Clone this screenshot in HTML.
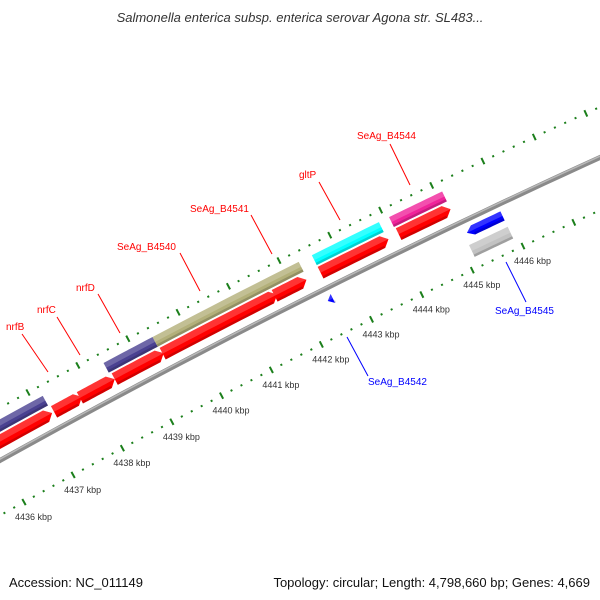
<!DOCTYPE html>
<html><head><meta charset="utf-8"><style>
html,body{margin:0;padding:0;background:#fff;overflow:hidden;}
svg{display:block;font-family:"Liberation Sans","DejaVu Sans",sans-serif;}
</style></head><body>
<svg id="map" width="600" height="600" viewBox="0 0 600 600" xmlns="http://www.w3.org/2000/svg">
<rect width="600" height="600" fill="#fff"/>
<text x="300" y="22" text-anchor="middle" font-size="13" font-style="italic" fill="#333">Salmonella enterica subsp. enterica serovar Agona str. SL483...</text>
<g id="plot"></g>
<text x="9" y="587" font-size="13" fill="#111">Accession: NC_011149</text>
<text x="590" y="587" font-size="13" text-anchor="end" fill="#111">Topology: circular; Length: 4,798,660 bp; Genes: 4,669</text>
</svg>
<script>
// data (kbp)
const tickStartKbp = 4430;
const tickEndKbp = 4452;
const labelKbp = [4436,4437,4438,4439,4440,4441,4442,4443,4444,4445,4446];
const featNames = ['purple-a','nrfD-bar','SeAg_B4540-bar','gltP-bar','SeAg_B4544-bar','red-1','red-2','red-3','red-4','red-5','red-6','red-7','red-8','SeAg_B4545-arrow','grey-bar','SeAg_B4542-arrow'];
const featStart = [4434.5,4438.42,4439.4,4442.56,4444.08,4434.5,4437.24,4437.76,4438.46,4439.42,4441.65,4442.56,4444.1,4445.2,4445.14,4442.45];
const featEnd   = [4437.2,4439.4,4442.3,4443.88,4445.12,4437.2,4437.8,4438.46,4439.44,4441.7,4442.28,4443.9,4445.12,4445.9,4445.9,4442.55];
const featStrand = [0,0,0,0,0,1,1,1,1,1,1,1,1,-1,0,-1];
const featBand = ['outer','outer','outer','outer','outer','red','red','red','red','red','red','red','red','inner','grey','inner'];
const featColor = ['#4a4191','#4a4191','#b3b07a','#00ffff','#f0239a','#ff0000','#ff0000','#ff0000','#ff0000','#ff0000','#ff0000','#ff0000','#ff0000','#0000ff','#c2c2c2','#0000ff'];

const CX=4101, CY=7836, R=8439, D0=-119.07, DPK=0.383;
const bands={outer:[25,36],red:[10,23],inner:[-17,-7],grey:[-37,-24]};
function pt(k,r){const t=(D0+DPK*(k-4436))*Math.PI/180;return [CX+r*Math.cos(t),CY+r*Math.sin(t)];}
const NS='http://www.w3.org/2000/svg';
const plot=document.getElementById('plot');
function mk(tag,attrs,parent){const e=document.createElementNS(NS,tag);for(const q in attrs)e.setAttribute(q,attrs[q]);(parent||plot).appendChild(e);return e;}
function arcPts(k1,k2,r,n){const p=[];for(let i=0;i<=n;i++){const k=k1+(k2-k1)*i/n;p.push(pt(k,r));}return p;}
function ps(arr){return arr.map(p=>p[0].toFixed(2)+','+p[1].toFixed(2)).join(' ');}

// backbone
const bb=mk('polyline',{points:ps(arcPts(4428,4452,R,60)),fill:'none',stroke:'#8a8a8a','stroke-width':5});


const bhl=mk('polyline',{points:ps(arcPts(4428,4452,R+1.2,60)),fill:'none',stroke:'#b8b8b8','stroke-width':1.5});



// tick rings
function ring(r,name){
  const g=mk('g',{});
  
  
  const n=Math.round((tickEndKbp-tickStartKbp)*5);
  for(let i=0;i<=n;i++){
    const k=tickStartKbp+i*0.2;
    const major=(i%5===0);
    const h=major?3.5:1;
    const p1=pt(k,r-h),p2=pt(k,r+h);
    const l=mk('line',{x1:p1[0],y1:p1[1],x2:p2[0],y2:p2[1],stroke:'#1b7f1b','stroke-width':2},g);
    
    
  }
}
ring(R+46,'outer-tick-ring');
ring(R-48,'inner-tick-ring');
labelKbp.forEach(k=>{
  const p=pt(k,R-48);
  const t=mk('text',{x:(p[0]-9).toFixed(1),y:(p[1]+18).toFixed(1),'font-size':9,fill:'#333'});
  t.textContent=k+' kbp';
  
  
});

// features
featNames.forEach((nm,i)=>{
  const r1=R+bands[featBand[i]][0], r2=R+bands[featBand[i]][1];
  const rm=(r1+r2)/2;
  const s=featStrand[i];
  const ka=featStart[i],kb=featEnd[i];
  const head=0.12;
  let pts,top;
  if(s===1){const h2=Math.max(ka,kb-head);
    pts=arcPts(ka,h2,r2,10).concat([pt(kb,rm)]).concat(arcPts(h2,ka,r1,10));
    top=arcPts(ka,h2,r2,10).concat([pt(kb,rm)]).concat(arcPts(h2,ka,rm,10));}
  else if(s===-1){const ah=Math.min(kb,ka+head);
    pts=[pt(ka,rm)].concat(arcPts(ah,kb,r2,10)).concat(arcPts(kb,ah,r1,10));
    top=[pt(ka,rm)].concat(arcPts(ah,kb,r2,10)).concat(arcPts(kb,ah,rm,10));}
  else {pts=arcPts(ka,kb,r2,10).concat(arcPts(kb,ka,r1,10));
    top=arcPts(ka,kb,r2,10).concat(arcPts(kb,ka,rm,10));}
  const g=mk('g',{});
  
  
  mk('polygon',{points:ps(pts),fill:featColor[i]},g);
  mk('polygon',{points:ps(top),fill:'#fff','fill-opacity':0.2},g);
  const s1=ka+(s===-1?head:0), s2=kb-(s===1?head:0);
  const bot=arcPts(s1,s2,r1+2.5,10).concat(arcPts(s2,s1,r1,10));
  mk('polygon',{points:ps(bot),fill:'#000','fill-opacity':0.18},g);
});

// labels with leader lines (layout)
const labs=[
 ['nrfB',6,330,22,334,48,372,'#f00'],
 ['nrfC',37,313,57,317,80,355,'#f00'],
 ['nrfD',76,291,98,294,120,333,'#f00'],
 ['SeAg_B4540',117,250,180,253,200,291,'#f00'],
 ['SeAg_B4541',190,212,251,215,272,254,'#f00'],
 ['gltP',299,178,319,182,340,220,'#f00'],
 ['SeAg_B4544',357,139,390,144,410,185,'#f00'],
 ['SeAg_B4542',368,385,347,337,368,376,'#00f'],
 ['SeAg_B4545',495,314,506,262,526,302,'#00f']
];
labs.forEach(l=>{
  const ln=mk('line',{x1:l[3],y1:l[4],x2:l[5],y2:l[6],stroke:l[7],'stroke-width':1});
  
  
  const t=mk('text',{x:l[1],y:l[2],'font-size':10,fill:l[7]});
  t.textContent=l[0];
  
  
});
</script>
</body></html>
